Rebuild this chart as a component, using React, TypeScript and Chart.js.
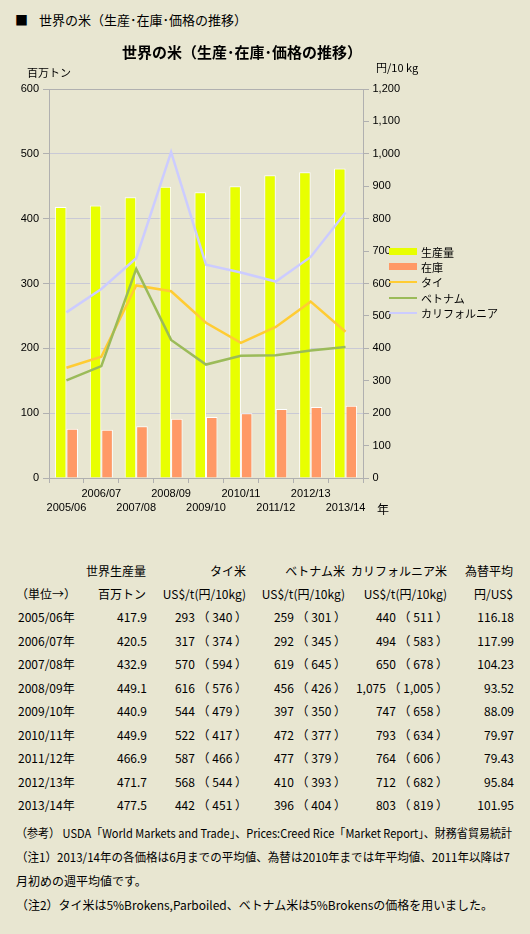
import { useEffect, useLayoutEffect, useRef } from 'react';
import Chart from 'chart.js/auto';

// crop years (x axis)
const years = ['2005/06', '2006/07', '2007/08', '2008/09', '2009/10', '2010/11', '2011/12', '2012/13', '2013/14'];

// world production / stock (million t, left axis)
const production = [417.9, 420.5, 432.9, 449.1, 440.9, 449.9, 466.9, 471.7, 477.5];
const stock = [76, 74.5, 80, 91.5, 94, 100, 106.5, 109.5, 111.5];

// prices: US$/t and yen/10kg (right axis uses the yen values)
const thaiUsd = [293, 317, 570, 616, 544, 522, 587, 568, 442];
const thaiYen = [340, 374, 594, 576, 479, 417, 466, 544, 451];
const vietUsd = [259, 292, 619, 456, 397, 472, 477, 410, 396];
const vietYen = [301, 345, 645, 426, 350, 377, 379, 393, 404];
const calUsd = [440, 494, 650, 1075, 747, 793, 764, 712, 803];
const calYen = [511, 583, 678, 1005, 658, 634, 606, 682, 819];
const fxRate = [116.18, 117.99, 104.23, 93.52, 88.09, 79.97, 79.43, 95.84, 101.95];

const seriesNames = ['生産量', '在庫', 'タイ', 'ベトナム', 'カリフォルニア'];
const seriesColors = ['#e8ff00', '#ff9966', '#ffcc33', '#9bbb59', '#ccccff'];

const tableHead1 = ['', '世界生産量', 'タイ米', 'ベトナム米', 'カリフォルニア米', '為替平均'];
const tableHead2 = ['（単位→）', '百万トン', 'US$/t(円/10kg)', 'US$/t(円/10kg)', 'US$/t(円/10kg)', '円/US$'];

const notes = [
  '（参考） USDA「World Markets and Trade」、Prices:Creed Rice「Market Report」、財務省貿易統計',
  '（注1）2013/14年の各価格は6月までの平均値、為替は2010年までは年平均値、2011年以降は7',
  '月初めの週平均値です。',
  '（注2）タイ米は5%Brokens,Parboiled、ベトナム米は5%Brokensの価格を用いました。',
];
const noteWidths = [496, 494, 0, 477];

const BG = '#e8e6d1';
const JP = '"Noto Sans CJK JP", sans-serif';
const AXIS = '"Liberation Sans", Arial, sans-serif';
const LINE_GREY = '#b0b0b0';

const fmt = (n: number) => n.toLocaleString('en-US');

function Txt({ x, y, right, size = 12, bold, children }: any) {
  const style: any = {
    position: 'absolute',
    top: y - 9,
    lineHeight: '18px',
    fontSize: size,
    fontFamily: JP,
    fontWeight: bold ? 'bold' : 'normal',
    whiteSpace: 'nowrap',
    color: '#000',
  };
  if (right) style.right = 530 - x;
  else style.left = x;
  return <div style={style}>{children}</div>;
}

// squeeze a line of text horizontally to a given width
function FitLine({ x, y, width, children }: any) {
  const ref = useRef<HTMLSpanElement>(null);
  useLayoutEffect(() => {
    const el = ref.current;
    if (!el || !width) return;
    const w = el.getBoundingClientRect().width;
    if (w > 0) el.style.transform = `scaleX(${width / w})`;
  }, [width]);
  return (
    <div
      style={{
        position: 'absolute',
        left: x,
        top: y - 9,
        lineHeight: '18px',
        fontSize: 12,
        fontFamily: JP,
        whiteSpace: 'nowrap',
      }}
    >
      <span ref={ref} style={{ display: 'inline-block', transformOrigin: '0 50%' }}>
        {children}
      </span>
    </div>
  );
}

function RiceChart() {
  const canvasRef = useRef<HTMLCanvasElement>(null);

  useEffect(() => {
    if (!canvasRef.current) return;
    const ctx = canvasRef.current.getContext('2d');
    if (!ctx) return;

    const tickFont = { family: AXIS, size: 11 };

    const chart = new Chart(ctx, {
      type: 'bar',
      data: {
        // stagger labels on two rows
        labels: years.map((y, i) => (i % 2 ? [y, ''] : ['', y])),
        datasets: [
          {
            type: 'line',
            label: seriesNames[4],
            data: calYen,
            yAxisID: 'y1',
            borderColor: seriesColors[4],
            borderWidth: 2.5,
            pointRadius: 0,
            order: 0,
          },
          {
            type: 'line',
            label: seriesNames[3],
            data: vietYen,
            yAxisID: 'y1',
            borderColor: seriesColors[3],
            borderWidth: 2.5,
            pointRadius: 0,
            order: 1,
          },
          {
            type: 'line',
            label: seriesNames[2],
            data: thaiYen,
            yAxisID: 'y1',
            borderColor: seriesColors[2],
            borderWidth: 2.5,
            pointRadius: 0,
            order: 2,
          },
          {
            type: 'bar',
            label: seriesNames[0],
            data: production,
            yAxisID: 'y',
            backgroundColor: seriesColors[0],
            borderColor: '#ffffff',
            borderWidth: { top: 1, left: 1, right: 1, bottom: 0 },
            categoryPercentage: 0.66,
            barPercentage: 1,
            order: 3,
          },
          {
            type: 'bar',
            label: seriesNames[1],
            data: stock,
            yAxisID: 'y',
            backgroundColor: seriesColors[1],
            borderColor: '#ffffff',
            borderWidth: { top: 1, left: 1, right: 1, bottom: 0 },
            categoryPercentage: 0.66,
            barPercentage: 1,
            order: 3,
          },
        ] as any,
      },
      options: {
        animation: false,
        responsive: false,
        layout: { padding: { top: 89, left: 0, right: 0, bottom: 0 } },
        plugins: {
          legend: { display: false },
          title: { display: false },
          tooltip: { enabled: false },
        },
        scales: {
          x: {
            offset: true,
            grid: { drawOnChartArea: false, offset: true, tickLength: 5, color: LINE_GREY },
            border: { color: LINE_GREY },
            ticks: {
              autoSkip: false,
              maxRotation: 0,
              padding: 3.5,
              color: '#000',
              font: { ...tickFont, lineHeight: 1.32 },
            },
            afterFit: (s: any) => {
              s.height = 52;
            },
          },
          y: {
            position: 'left',
            min: 0,
            max: 600,
            ticks: { stepSize: 100, padding: 4, color: '#000', font: tickFont },
            grid: {
              color: (c: any) => (c.tick && c.tick.value === 600 ? LINE_GREY : '#c9c9d6'),
              tickColor: LINE_GREY,
              tickLength: 6,
            },
            border: { color: LINE_GREY },
            afterFit: (s: any) => {
              s.width = 49;
            },
          },
          y1: {
            position: 'right',
            min: 0,
            max: 1200,
            ticks: {
              stepSize: 100,
              padding: 3.5,
              color: '#000',
              font: tickFont,
              callback: (v: any) => fmt(Number(v)),
            },
            grid: { drawOnChartArea: false, tickLength: 6, color: LINE_GREY },
            border: { color: LINE_GREY },
            afterFit: (s: any) => {
              s.width = 167;
            },
          },
        },
      } as any,
    });

    return () => {
      chart.destroy();
    };
  }, []);

  return (
    <canvas
      ref={canvasRef}
      width={530}
      height={530}
      style={{ position: 'absolute', left: 0, top: 0, width: 530, height: 530 }}
    />
  );
}

export default function App() {
  useEffect(() => {
    document.body.style.margin = '0';
    document.body.style.background = BG;
  }, []);

  const colRight = [0, 147, 247, 346, 448, 514];
  const headRight = [0, 146, 246, 345, 447, 513];
  const rowY = (i: number) => 617 + i * 23.5;

  return (
    <div style={{ position: 'relative', width: 530, height: 934, background: BG, overflow: 'hidden' }}>
      <Txt x={15} y={20} size={13}>■</Txt>
      <Txt x={39} y={20} size={13}>世界の米（生産･在庫･価格の推移）</Txt>

      <RiceChart />

      <Txt x={122} y={52} size={15} bold>世界の米（生産･在庫･価格の推移）</Txt>
      <Txt x={27} y={72} size={11}>百万トン</Txt>
      <Txt x={376} y={67} size={11}>円/10 kg</Txt>
      <Txt x={377} y={509} size={12}>年</Txt>

      {seriesNames.map((name, i) => {
        const cy = 251.5 + i * 15.4;
        const isBar = i < 2;
        return (
          <div key={name}>
            <div
              style={{
                position: 'absolute',
                left: 389,
                width: 28,
                top: isBar ? cy - 3.5 : cy - 1,
                height: isBar ? 7 : 2,
                background: seriesColors[i],
              }}
            />
            <Txt x={421} y={cy} size={11}>{name}</Txt>
          </div>
        );
      })}

      {tableHead1.map((t, c) =>
        c === 0 ? null : (
          <Txt key={'h1' + c} x={headRight[c]} y={570.5} right>{t}</Txt>
        )
      )}
      {tableHead2.map((t, c) =>
        c === 0 ? (
          <Txt key={'h2' + c} x={16} y={594}>{t}</Txt>
        ) : (
          <Txt key={'h2' + c} x={headRight[c]} y={594} right>{t}</Txt>
        )
      )}

      {years.map((y, i) => (
        <div key={y}>
          <Txt x={18} y={rowY(i)}>{y}年</Txt>
          <Txt x={colRight[1]} y={rowY(i)} right>{production[i].toFixed(1)}</Txt>
          <Txt x={colRight[2]} y={rowY(i)} right>
            {fmt(thaiUsd[i])} （ {fmt(thaiYen[i])} ）
          </Txt>
          <Txt x={colRight[3]} y={rowY(i)} right>
            {fmt(vietUsd[i])} （ {fmt(vietYen[i])} ）
          </Txt>
          <Txt x={colRight[4]} y={rowY(i)} right>
            {fmt(calUsd[i])} （ {fmt(calYen[i])} ）
          </Txt>
          <Txt x={colRight[5]} y={rowY(i)} right>{fxRate[i].toFixed(2)}</Txt>
        </div>
      ))}

      {notes.map((n, i) => (
        <FitLine key={i} x={16} y={833 + i * 24} width={noteWidths[i]}>{n}</FitLine>
      ))}
    </div>
  );
}
